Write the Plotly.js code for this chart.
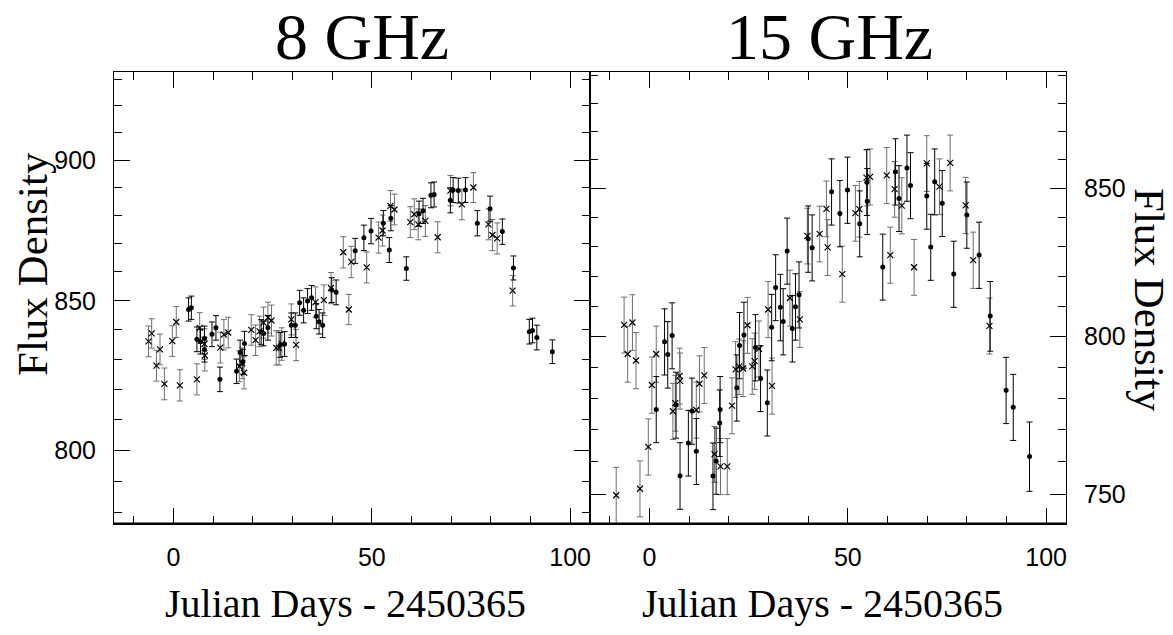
<!DOCTYPE html>
<html>
<head>
<meta charset="utf-8">
<script src="https://cdn.plot.ly/plotly-3.0.1.min.js"></script>
<style>html,body{margin:0;padding:0;background:#fff;}#chart{width:1173px;height:635px;}</style>
</head>
<body>
<div id="chart"></div>
<script>
// ---------- 8 GHz : dots ----------
var L_dot_x = [3.8, 4.5, 5.9, 6.8, 7.8, 7.8, 9.7, 10.7, 11.7, 15.9, 16.8, 17.5, 17.9, 22.1, 22.7, 23.8, 26.9, 28.0, 29.7, 30.7, 31.8, 32.8, 33.8, 34.8, 36.0, 36.7, 37.6, 39.9, 41.0, 45.8, 48.0, 49.8, 52.9, 54.4, 54.8, 58.7, 61.9, 62.9, 64.9, 65.7, 69.8, 70.5, 71.8, 73.6, 76.6, 79.8, 82.9, 85.7, 89.7, 90.5, 91.6, 95.5];
var L_dot_y = [847.0, 847.6, 836.8, 836.0, 837.1, 833.3, 838.5, 840.7, 823.3, 826.0, 832.3, 829.2, 835.4, 839.3, 838.8, 840.7, 834.9, 835.2, 841.6, 841.6, 849.3, 846.7, 849.9, 851.0, 844.7, 842.8, 841.6, 853.7, 852.9, 867.4, 872.0, 874.4, 877.2, 867.7, 879.0, 861.2, 880.6, 881.6, 887.2, 887.5, 885.4, 889.1, 888.9, 889.1, 877.2, 882.4, 874.2, 861.4, 839.4, 839.8, 837.4, 832.6];
var L_dot_err = [4.0, 4.0, 4.2, 4.2, 4.2, 4.2, 4.2, 4.2, 4.1, 4.1, 4.2, 4.2, 4.1, 4.2, 4.2, 4.2, 4.2, 4.2, 4.2, 4.2, 4.3, 4.3, 4.3, 4.3, 4.3, 4.2, 4.2, 4.3, 4.3, 4.4, 4.5, 4.5, 4.5, 4.4, 4.5, 4.1, 4.5, 4.5, 4.5, 4.5, 4.5, 4.5, 4.5, 4.5, 4.5, 4.5, 4.5, 4.2, 4.2, 4.2, 4.2, 4.0];
// ---------- 8 GHz : crosses ----------
var L_x_x = [-6.3, -5.5, -4.3, -3.4, -2.3, -0.3, 0.7, 1.6, 5.9, 6.6, 7.8, 7.9, 11.8, 12.7, 13.8, 16.6, 17.3, 17.8, 19.6, 20.7, 21.7, 22.7, 23.8, 24.7, 25.9, 26.6, 27.3, 29.7, 30.9, 35.8, 37.9, 39.7, 42.8, 44.2, 44.8, 48.7, 51.7, 52.7, 54.7, 55.7, 59.7, 60.7, 61.7, 63.5, 66.6, 69.8, 72.7, 75.6, 79.4, 80.4, 81.6, 85.5];
var L_x_y = [836.1, 838.8, 827.9, 833.4, 821.8, 836.2, 842.7, 821.3, 823.3, 840.7, 835.2, 831.3, 834.0, 838.4, 839.1, 827.7, 828.7, 825.5, 840.0, 836.5, 839.5, 842.5, 844.2, 843.2, 833.9, 833.9, 835.2, 843.6, 834.9, 849.5, 850.2, 854.4, 866.9, 847.0, 863.5, 861.6, 872.1, 874.6, 883.4, 882.1, 877.6, 880.4, 876.8, 878.0, 872.2, 888.9, 883.9, 890.0, 876.8, 873.0, 871.8, 853.5];
var L_x_err = [5.2, 5.0, 5.2, 5.2, 5.3, 5.2, 5.3, 5.2, 5.2, 5.2, 5.2, 5.2, 5.2, 5.2, 5.2, 5.2, 5.2, 5.4, 5.2, 5.2, 5.2, 5.3, 5.3, 5.3, 5.8, 5.8, 5.5, 5.3, 5.3, 5.3, 5.3, 5.4, 5.5, 5.2, 5.5, 5.4, 5.5, 5.5, 5.5, 5.5, 5.5, 5.5, 5.5, 5.5, 5.5, 5.5, 5.5, 5.4, 5.5, 5.5, 5.5, 5.3];
// ---------- 15 GHz : dots ----------
var R_dot_x = [1.7, 3.8, 4.6, 5.7, 6.7, 7.7, 9.8, 10.7, 11.8, 16.0, 16.8, 17.7, 17.8, 22.0, 22.7, 23.8, 26.7, 28.0, 29.7, 30.8, 31.8, 33.0, 33.7, 34.7, 36.0, 36.8, 37.7, 40.0, 41.0, 45.9, 48.0, 49.9, 53.0, 54.8, 54.9, 58.8, 62.0, 62.9, 64.9, 65.8, 69.9, 70.9, 71.9, 73.8, 76.7, 80.0, 83.1, 85.9, 89.9, 91.7, 95.8];
var R_dot_y = [776.5, 798.3, 794.1, 800.3, 777.9, 755.7, 765.9, 776.0, 763.3, 755.6, 760.3, 772.2, 776.5, 783.4, 797.1, 800.5, 796.4, 786.4, 778.6, 803.0, 816.2, 809.6, 804.9, 828.5, 802.6, 809.8, 813.8, 832.6, 829.6, 848.8, 841.3, 849.4, 837.8, 852.1, 845.5, 823.1, 855.8, 846.5, 857.1, 851.0, 847.3, 829.8, 852.3, 844.8, 820.7, 840.8, 827.1, 806.7, 782.6, 777.2, 761.7];
var R_dot_err = [10.5, 10.8, 10.8, 10.8, 10.5, 10.3, 10.3, 10.5, 10.3, 10.3, 10.3, 10.5, 10.5, 10.6, 10.8, 10.8, 10.8, 10.6, 10.5, 10.9, 11.0, 11.0, 10.9, 11.2, 10.9, 11.0, 11.0, 11.3, 11.2, 11.5, 11.4, 11.5, 11.3, 11.5, 11.4, 11.1, 11.6, 11.4, 11.6, 11.5, 11.4, 11.2, 11.5, 11.4, 11.1, 11.4, 11.2, 11.5, 10.6, 10.5, 10.8];
// ---------- 15 GHz : crosses ----------
var R_x_x = [-8.4, -6.4, -5.5, -4.3, -3.4, -2.4, -0.3, 0.6, 1.7, 5.9, 6.5, 7.6, 7.7, 11.8, 12.6, 13.8, 16.4, 17.9, 19.6, 20.8, 21.7, 22.6, 23.6, 24.7, 25.9, 26.5, 27.6, 29.9, 30.9, 35.4, 37.9, 39.8, 42.9, 44.6, 44.9, 48.6, 51.9, 52.9, 54.7, 55.6, 59.8, 60.7, 61.8, 63.6, 66.7, 69.9, 73.1, 75.8, 79.7, 81.6, 85.7];
var R_x_y = [749.7, 803.8, 794.3, 804.6, 792.2, 751.7, 764.7, 784.3, 794.3, 775.9, 778.5, 787.2, 785.6, 776.3, 784.7, 787.4, 762.4, 758.6, 758.6, 777.7, 789.3, 790.2, 789.6, 803.7, 790.3, 792.0, 796.0, 808.9, 784.0, 812.7, 805.6, 833.6, 834.3, 842.9, 829.7, 820.7, 841.4, 842.8, 853.7, 854.0, 854.5, 827.1, 849.7, 844.0, 823.0, 858.7, 850.6, 858.9, 844.1, 825.4, 803.5];
var R_x_err = [8.6, 9.2, 9.1, 9.2, 9.1, 8.6, 8.8, 9.0, 9.1, 8.9, 8.9, 9.0, 9.0, 8.9, 9.0, 9.0, 8.7, 8.7, 8.7, 8.9, 9.0, 9.0, 9.0, 9.2, 9.0, 9.1, 9.1, 9.3, 9.0, 9.3, 9.2, 9.5, 9.5, 9.6, 9.5, 9.4, 9.6, 9.6, 9.8, 9.8, 9.8, 9.5, 9.7, 9.7, 9.4, 9.8, 9.7, 9.8, 9.7, 9.5, 9.2];

// ---------- ticks / labels ----------
var xTicks = [0, 50, 100];
var L_yTicks = [800, 850, 900];
var L_yMinor = [780, 790, 810, 820, 830, 840, 860, 870, 880, 890, 910, 920, 930];
var R_yTicks = [750, 800, 850];
var R_yMinor = [760, 770, 780, 790, 810, 820, 830, 840, 860, 870, 880, 890];
var panelTitles = ['8 GHz', '15 GHz'];
var xTitle = 'Julian Days - 2450365';
var yTitle = 'Flux Density';

var W = 1173, H = 635;
function px(v){ return v / W; }
function py(v){ return (H - v) / H; }

var crossErrColor = '#6e6e6e';
function dots(x, y, e, xa, ya){
  return {x:x, y:y, xaxis:xa, yaxis:ya, type:'scatter', mode:'markers',
    marker:{symbol:'circle', size:5, color:'#000'},
    error_y:{type:'data', array:e, visible:true, color:'#000', thickness:1, width:3},
    hoverinfo:'x+y', showlegend:false};
}
function crosses(x, y, e, xa, ya){
  return {x:x, y:y, xaxis:xa, yaxis:ya, type:'scatter', mode:'markers',
    marker:{symbol:'x-thin', size:6, color:'#000', line:{width:1.2, color:'#000'}},
    error_y:{type:'data', array:e, visible:true, color:crossErrColor, thickness:1, width:3},
    hoverinfo:'x+y', showlegend:false};
}

var data = [
  crosses(L_x_x, L_x_y, L_x_err, 'x', 'y'),
  dots(L_dot_x, L_dot_y, L_dot_err, 'x', 'y'),
  crosses(R_x_x, R_x_y, R_x_err, 'x2', 'y2'),
  dots(R_dot_x, R_dot_y, R_dot_err, 'x2', 'y2')
];

var tickFont = {family:'"Liberation Sans", Arial, Helvetica, sans-serif', size:25, color:'#000'};
var serif = '"Liberation Serif", "Times New Roman", Times, serif';
var yDom = [py(523.5), py(72)];

function xAxis(dom, anchor){
  return {domain:dom, anchor:anchor, range:[-15, 105], showgrid:false, zeroline:false,
    showline:true, linecolor:'#000', linewidth:1, mirror:'allticks',
    ticks:'inside', ticklen:16, tickwidth:1, tickcolor:'#000',
    tickmode:'array', tickvals:xTicks, ticktext:xTicks.map(String),
    minor:{tickmode:'linear', tick0:0, dtick:10, ticks:'inside', ticklen:8, tickwidth:1, tickcolor:'#000', showgrid:false},
    tickfont:tickFont, ticklabelstandoff:11, fixedrange:true};
}
function yAxis(range, major, minor, anchor, side){
  return {domain:yDom, anchor:anchor, side:side, type:'log', range:range, showgrid:false, zeroline:false,
    showline:true, linecolor:'#000', linewidth:1, mirror:'allticks',
    ticks:'inside', ticklen:16, tickwidth:1, tickcolor:'#000',
    tickmode:'array', tickvals:major, ticktext:major.map(String),
    minor:{tickmode:'array', tickvals:minor, ticks:'inside', ticklen:8, tickwidth:1, tickcolor:'#000', showgrid:false},
    tickfont:tickFont, ticklabelstandoff:12, fixedrange:true};
}

var layout = {
  width:W, height:H, margin:{l:0, r:0, t:0, b:0},
  paper_bgcolor:'#fff', plot_bgcolor:'#fff', showlegend:false,
  xaxis: xAxis([px(114), px(590)], 'y'),
  yaxis: yAxis([2.890134, 2.969763], L_yTicks, L_yMinor, 'x', 'left'),
  xaxis2: xAxis([px(590), px(1066)], 'y2'),
  yaxis2: yAxis([2.869870, 2.950080], R_yTicks, R_yMinor, 'x2', 'right'),
  shapes:[
    {type:'line', xref:'paper', yref:'paper', x0:px(114), x1:px(1066), y0:py(523.5), y1:py(523.5), line:{color:'#000', width:2}, layer:'above'}
  ],
  annotations:[
    {text:panelTitles[0], xref:'paper', yref:'paper', x:px(362), y:py(37), xanchor:'center', yanchor:'middle', showarrow:false, font:{family:serif, size:66, color:'#000'}},
    {text:panelTitles[1], xref:'paper', yref:'paper', x:px(829), y:py(37), xanchor:'center', yanchor:'middle', showarrow:false, font:{family:serif, size:66, color:'#000'}},
    {text:xTitle, xref:'paper', yref:'paper', x:px(345.5), y:py(603), xanchor:'center', yanchor:'middle', showarrow:false, font:{family:serif, size:40, color:'#000'}},
    {text:xTitle, xref:'paper', yref:'paper', x:px(822), y:py(603), xanchor:'center', yanchor:'middle', showarrow:false, font:{family:serif, size:40, color:'#000'}},
    {text:yTitle, xref:'paper', yref:'paper', x:px(32), y:py(264), xanchor:'center', yanchor:'middle', textangle:-90, showarrow:false, font:{family:serif, size:43, color:'#000'}},
    {text:yTitle, xref:'paper', yref:'paper', x:px(1150), y:py(300), xanchor:'center', yanchor:'middle', textangle:90, showarrow:false, font:{family:serif, size:43, color:'#000'}}
  ]
};

Plotly.newPlot('chart', data, layout, {displayModeBar:false, staticPlot:true});
</script>
</body>
</html>
